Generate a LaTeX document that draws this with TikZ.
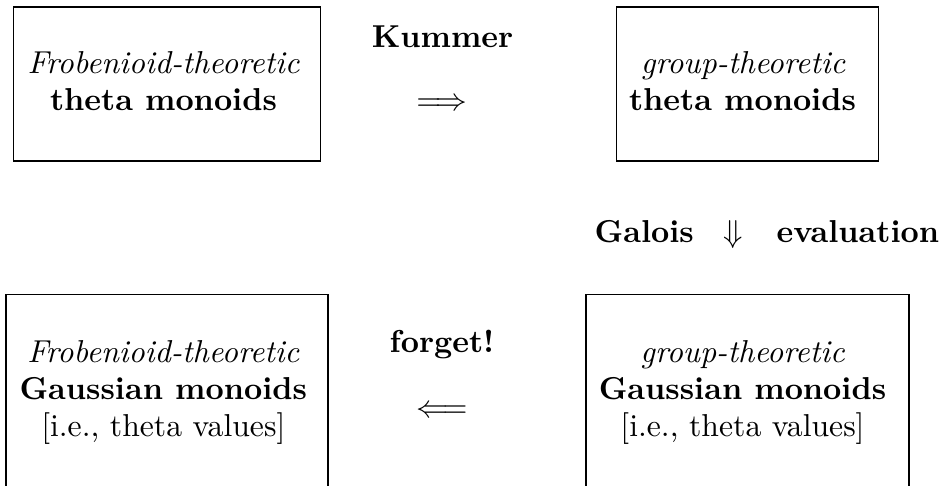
\documentclass[tikz,border=0pt]{standalone}
\begin{document}
\begin{tikzpicture}[x=0.3155pt, y=-0.3155pt,
  box/.style={draw, line width=0.4pt, inner sep=0pt, rectangle},
  lbl/.style={anchor=base, inner sep=0pt},
  lblw/.style={anchor=base west, inner sep=0pt}]
\useasboundingbox (0,0) rectangle (940,486);
\clip (0,0) rectangle (940,486);
% boxes
\node[box, minimum width=307*0.3155pt, minimum height=154*0.3155pt] (tl) at (167,84) {};
\node[box, minimum width=262*0.3155pt, minimum height=154*0.3155pt] (tr) at (747.7,84) {};
\node[box, minimum width=322*0.3155pt, minimum height=245.3*0.3155pt] (bl) at (167,417.35) {};
\node[box, minimum width=323*0.3155pt, minimum height=245.3*0.3155pt] (br) at (747.5,417.35) {};
% box texts
\node[lbl] (tl1) at (163.5,73.3) {\itshape Frobenioid-theoretic};
\node[lbl] (tl2) at (163.5,110.7) {\bfseries theta monoids};
\node[lbl] (tr1) at (743,73.3) {\itshape group-theoretic};
\node[lbl] (tr2) at (742.5,110.7) {\bfseries theta monoids};
\node[lbl] (bl1) at (163.3,362.7) {\itshape Frobenioid-theoretic};
\node[lbl] (bl2) at (163.3,400) {\bfseries Gaussian monoids};
\node[lbl] (bl3) at (163.3,436.7) {[i.e., theta values]};
\node[lbl] (br1) at (742.5,362.7) {\itshape group-theoretic};
\node[lbl] (br2) at (742.5,400) {\bfseries Gaussian monoids};
\node[lbl] (br3) at (742.5,436.7) {[i.e., theta values]};
% arrows and labels
\node[lbl] (kum) at (442.5,48) {\bfseries Kummer};
\node[lbl] (karr) at (442,110.7) {$\Longrightarrow$};
\node[lbl] (fgt) at (442,353) {\bfseries forget!};
\node[lbl] (farr) at (442,418) {$\Longleftarrow$};
\node[lblw] (gal) at (594,243) {\bfseries Galois};
\node[lbl] (darr) at (733.5,243) {$\Downarrow$};
\node[lblw] (ev) at (776,243) {\bfseries evaluation};
\end{tikzpicture}
\end{document}
